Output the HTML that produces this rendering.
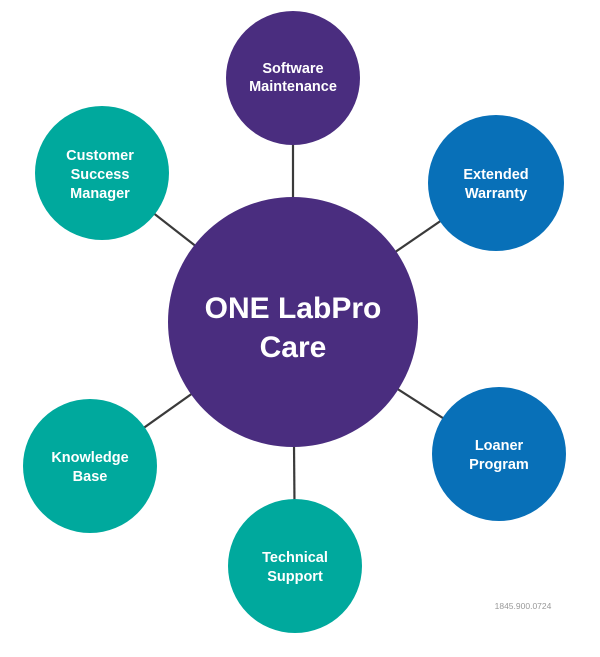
<!DOCTYPE html>
<html><head><style>
html,body{margin:0;padding:0;background:#fff;}
svg{display:block;}
text{font-family:"Liberation Sans",sans-serif;font-weight:bold;fill:#fff;text-anchor:middle;}
</style></head><body>
<svg width="600" height="657" viewBox="0 0 600 657">
<g stroke="#3a3a3a" stroke-width="2.2">
<line x1="293" y1="322" x2="293" y2="78"/>
<line x1="293" y1="322" x2="496" y2="183"/>
<line x1="293" y1="322" x2="102" y2="173"/>
<line x1="293" y1="322" x2="90" y2="466"/>
<line x1="293" y1="322" x2="295" y2="566"/>
<line x1="293" y1="322" x2="499" y2="454"/>
</g>
<circle cx="293" cy="322" r="125" fill="#4a2d7f"/>
<circle cx="293" cy="78" r="67" fill="#4a2d7f"/>
<circle cx="496" cy="183" r="68" fill="#0870b8"/>
<circle cx="499" cy="454" r="67" fill="#0870b8"/>
<circle cx="102" cy="173" r="67" fill="#00a99d"/>
<circle cx="90" cy="466" r="67" fill="#00a99d"/>
<circle cx="295" cy="566" r="67" fill="#00a99d"/>
<text x="293" y="318" font-size="30">ONE LabPro</text>
<text x="293" y="357" font-size="30">Care</text>
<text font-size="14.5"><tspan x="293" y="73">Software</tspan><tspan x="293" y="91">Maintenance</tspan></text>
<text font-size="14.5"><tspan x="496" y="179">Extended</tspan><tspan x="496" y="198">Warranty</tspan></text>
<text font-size="14.5"><tspan x="499" y="450">Loaner</tspan><tspan x="499" y="469">Program</tspan></text>
<text font-size="14.5"><tspan x="100" y="160">Customer</tspan><tspan x="100" y="179">Success</tspan><tspan x="100" y="198">Manager</tspan></text>
<text font-size="14.5"><tspan x="90" y="462">Knowledge</tspan><tspan x="90" y="481">Base</tspan></text>
<text font-size="14.5"><tspan x="295" y="562">Technical</tspan><tspan x="295" y="581">Support</tspan></text>
<text x="523" y="609" font-size="8.5" style="fill:#999;font-weight:normal">1845.900.0724</text>
</svg>
</body></html>
